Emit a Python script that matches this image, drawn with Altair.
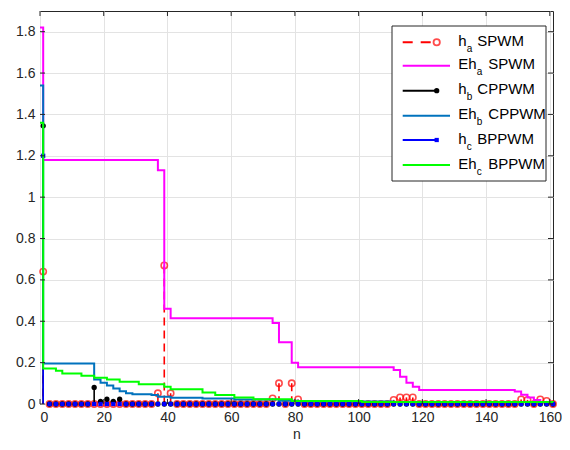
import altair as alt
import pandas as pd

# ---------------- data ----------------
n_odd = list(range(1, 162, 2))  # odd harmonic orders 1..161

# h_a SPWM (non-negligible harmonics; all others ~0)
ha_n = [1, 37, 39, 41, 73, 75, 79, 81, 111, 113, 115, 117, 151, 153, 157, 159]
ha_v = [0.64, 0.052, 0.67, 0.052, 0.027, 0.10, 0.10, 0.022, 0.02, 0.032, 0.032, 0.032, 0.022, 0.02, 0.022, 0.015]
# h_b CPPWM
hb_n = [1, 17, 19, 21, 23, 25]
hb_v = [1.345, 0.08, 0.012, 0.023, 0.012, 0.023]
# h_c BPPWM
hc_n = [1]
hc_v = [1.20]

# Eh curves (stairs)
eha_n = [0, 1, 37, 39, 41, 73, 75, 79, 81, 111, 113, 115, 117, 119, 149, 151, 153, 155, 157, 159, 161]
eha_v = [1.82, 1.18, 1.13, 0.46, 0.414, 0.392, 0.298, 0.20, 0.178, 0.164, 0.132, 0.103, 0.084, 0.068, 0.06, 0.045, 0.032, 0.019, 0.01, 0.005, 0.0]
ehb_n = [0, 1, 17, 19, 21, 23, 25, 27, 29, 35, 37, 41, 51, 61, 75, 81, 111, 161]
ehb_v = [1.54, 0.196, 0.119, 0.103, 0.09, 0.075, 0.062, 0.052, 0.047, 0.043, 0.035, 0.03, 0.027, 0.022, 0.016, 0.012, 0.009, 0.008]
ehc_n = [0, 1, 5, 7, 13, 17, 21, 25, 31, 39, 41, 51, 55, 61, 67, 79, 101, 161]
ehc_v = [1.36, 0.172, 0.161, 0.148, 0.137, 0.127, 0.119, 0.108, 0.095, 0.084, 0.071, 0.055, 0.043, 0.032, 0.023, 0.015, 0.01, 0.008]

x_ticks = [0, 20, 40, 60, 80, 100, 120, 140, 160]
y_ticks = [0, 0.2, 0.4, 0.6, 0.8, 1.0, 1.2, 1.4, 1.6, 1.8]

legend_main = ["h", "Eh", "h", "Eh", "h", "Eh"]
legend_sub = ["a", "a", "b", "b", "c", "c"]
legend_rest = ["SPWM", "SPWM", "CPPWM", "CPPWM", "BPPWM", "BPPWM"]

# ---------------- styling ----------------
W, H = 513, 393
FONT = "Liberation Sans"
RED, MAG, BLK, STEEL, BLUE, GRN = "#ff0000", "#ff00ff", "#000000", "#0072bd", "#0000ff", "#00ff00"

xscale = alt.Scale(domain=[0, 161], nice=False, zero=False)
yscale = alt.Scale(domain=[0, 1.9], nice=False, zero=False)
xaxis = alt.Axis(values=x_ticks, title="n", labelPadding=6, titlePadding=3)
yaxis = alt.Axis(values=y_ticks, title=None, format="~g", labelPadding=5)


def series(vals_n, vals_v):
    d = {k: 0.0 for k in n_odd}
    for k, v in zip(vals_n, vals_v):
        d[k] = v
    return pd.DataFrame({"n": list(d.keys()), "h": list(d.values())})


def X(f="n"):
    return alt.X(f"{f}:Q", scale=xscale, axis=xaxis)


def Y(f):
    return alt.Y(f"{f}:Q", scale=yscale, axis=yaxis)


def stem_layers(df, color, dash, marker):
    base = alt.Chart(df)
    rule = base.mark_rule(color=color, strokeWidth=1.6, strokeDash=dash).encode(
        x=X(), y=Y("h"), y2=alt.Y2(datum=0))
    return [rule, marker(base)]


def stairs(ns, vs, color):
    df = pd.DataFrame({"n": ns, "e": vs})
    return alt.Chart(df).mark_line(color=color, strokeWidth=2, interpolate="step-after").encode(
        x=X(), y=Y("e"))


dfa, dfb, dfc = series(ha_n, ha_v), series(hb_n, hb_v), series(hc_n, hc_v)

layers = []
layers += stem_layers(dfa, RED, [8, 5], lambda b: b.mark_point(
    shape="circle", filled=False, color=RED, strokeWidth=1.6, size=40).encode(x=X(), y=Y("h")))
layers.append(stairs(eha_n, eha_v, MAG))
layers += stem_layers(dfb, BLK, [1, 0], lambda b: b.mark_point(
    shape="circle", filled=True, color=BLK, opacity=1, size=28).encode(x=X(), y=Y("h")))
layers.append(stairs(ehb_n, ehb_v, STEEL))
layers += stem_layers(dfc, BLUE, [1, 0], lambda b: b.mark_point(
    shape="square", filled=True, color=BLUE, opacity=1, size=18).encode(x=X(), y=Y("h")))
layers.append(stairs(ehc_n, ehc_v, GRN))

# inner tick marks (MATLAB style) on all four sides
xt = alt.Chart(pd.DataFrame({"t": x_ticks}))
yt = alt.Chart(pd.DataFrame({"t": y_ticks}))
tick_col = "#262626"
layers.append(xt.mark_rule(color=tick_col).encode(x=X("t"), y=alt.value(H), y2=alt.value(H - 5)))
layers.append(xt.mark_rule(color=tick_col).encode(x=X("t"), y=alt.value(0), y2=alt.value(5)))
layers.append(yt.mark_rule(color=tick_col).encode(y=Y("t"), x=alt.value(0), x2=alt.value(5)))
layers.append(yt.mark_rule(color=tick_col).encode(y=Y("t"), x=alt.value(W), x2=alt.value(W - 5)))

# ---------------- legend (inside plot, top right) ----------------
row_y = [31.3, 54.7, 79.7, 104.7, 129.0, 154.0]
is_eh = [m == "Eh" for m in legend_main]
leg_colors = [RED, MAG, BLK, STEEL, BLUE, GRN]
lx0, lx_stem, lx_eh = 362.7, 396.7, 410.0

leg = pd.DataFrame({
    "y": row_y,
    "x0": [lx0] * 6,
    "x1": [lx_eh if e else lx_stem for e in is_eh],
    "main": legend_main,
    "sub": legend_sub,
    "rest": legend_rest,
    "xm": [418.3] * 6,
    "xs": [436.8 if e else 426.8 for e in is_eh],
    "xr": [448.3 if e else 437.3 for e in is_eh],
    "yb": [v + 3.5 for v in row_y],
    "ys": [v + 9.5 for v in row_y],
})

PX = lambda f: alt.X(f"{f}:Q", scale=None)
PY = lambda f: alt.Y(f"{f}:Q", scale=None)

box = alt.Chart(pd.DataFrame({"a": [0]})).mark_rect(
    fill="white", stroke="#262626", strokeWidth=1).encode(
    x=alt.value(352), x2=alt.value(506), y=alt.value(15), y2=alt.value(170))
layers.append(box)
lc = alt.Chart(leg)
for i in range(6):
    c = alt.Chart(leg.iloc[[i]])
    layers.append(c.mark_rule(color=leg_colors[i], strokeWidth=2,
                              strokeDash=[10, 8] if i == 0 else [1, 0]).encode(
        x=PX("x0"), x2=alt.X2("x1"), y=PY("y")))
layers.append(alt.Chart(leg.iloc[[0]]).mark_point(shape="circle", filled=False, color=RED,
                                                  strokeWidth=1.8, size=40).encode(x=PX("x1"), y=PY("y")))
layers.append(alt.Chart(leg.iloc[[2]]).mark_point(shape="circle", filled=True, color=BLK, opacity=1,
                                                  size=28).encode(x=PX("x1"), y=PY("y")))
layers.append(alt.Chart(leg.iloc[[4]]).mark_point(shape="square", filled=True, color=BLUE, opacity=1,
                                                  size=18).encode(x=PX("x1"), y=PY("y")))
layers.append(lc.mark_text(align="left", baseline="alphabetic", font=FONT, fontSize=15, color="#000000").encode(
    x=PX("xm"), y=PY("yb"), text="main:N"))
layers.append(lc.mark_text(align="left", baseline="alphabetic", font=FONT, fontSize=10, color="#000000").encode(
    x=PX("xs"), y=PY("ys"), text="sub:N"))
layers.append(lc.mark_text(align="left", baseline="alphabetic", font=FONT, fontSize=15, color="#000000").encode(
    x=PX("xr"), y=PY("yb"), text="rest:N"))

chart = alt.layer(*layers).properties(
    width=W, height=H,
    autosize=alt.AutoSizeParams(type="none"),
    padding={"left": 32, "top": 3, "right": 9, "bottom": 37},
).configure_view(
    stroke="#262626", strokeWidth=1
).configure_axis(
    grid=True, gridColor="#e3e3e3", gridWidth=1, ticks=False, domain=False,
    labelFont=FONT, labelFontSize=14, labelColor="#262626",
    titleFont=FONT, titleFontSize=14, titleColor="#262626", titleFontWeight="normal",
)

chart.save("out.html", embed_options={"renderer": "svg", "actions": False})
